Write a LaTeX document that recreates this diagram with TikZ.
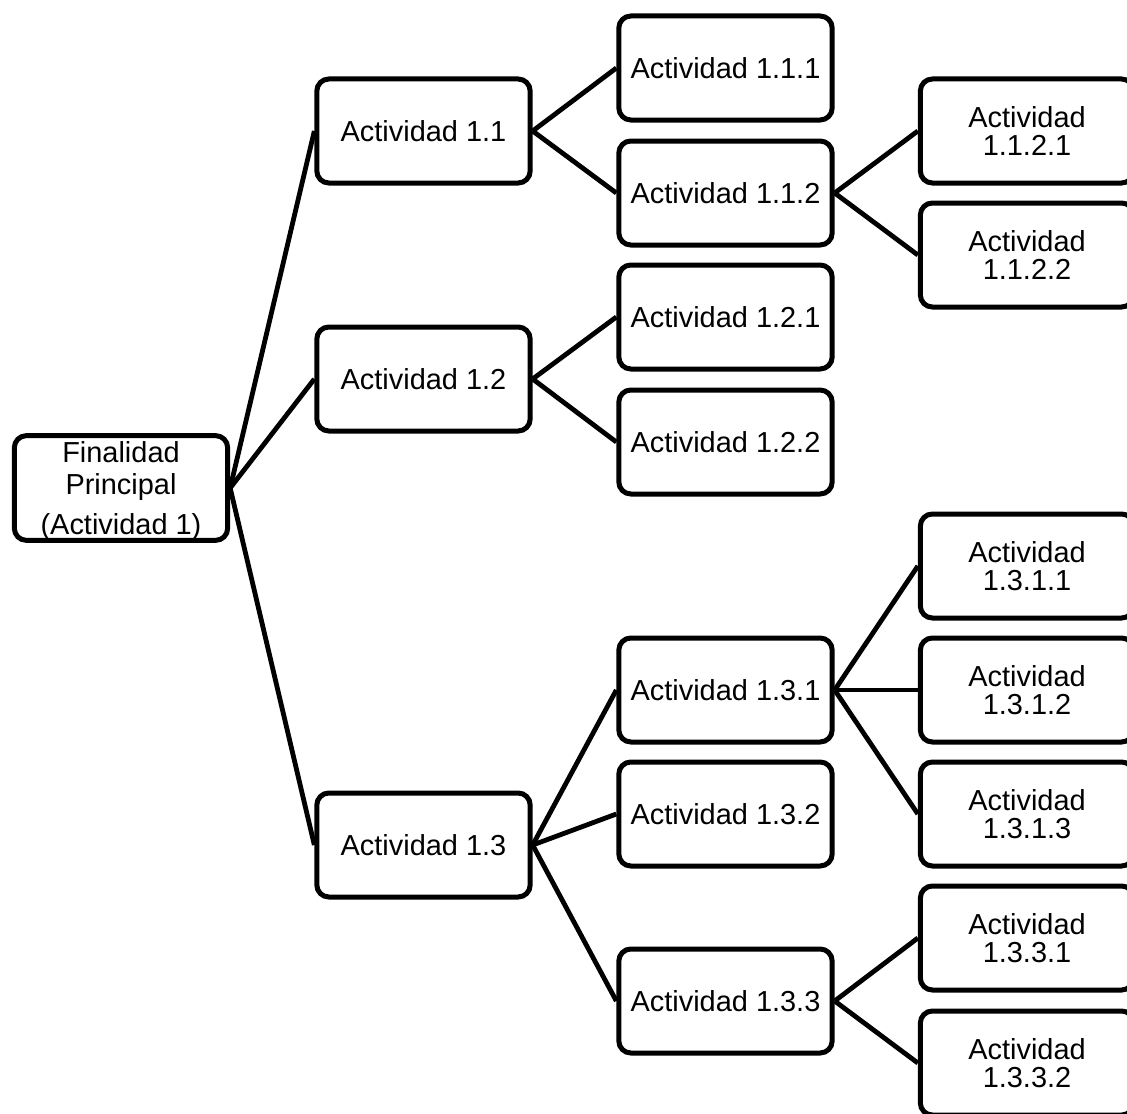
\documentclass[tikz,border=0pt]{standalone}
\usepackage{fontspec}
\setmainfont{Liberation Sans}
\begin{document}
\begin{tikzpicture}[x=0.75pt,y=-0.75pt,
  box/.style={draw=black, line width=3.75pt, rounded corners=9pt, fill=white,
    minimum width=160pt, minimum height=78pt, inner sep=0pt, align=center,
    font=\fontsize{21.7}{21}\selectfont},
  link/.style={draw=black, line width=3.6pt}]
\useasboundingbox (0,0) rectangle (1127,1113);
\clip (0,0) rectangle (1127,1113);
% column 0
\node[box, font=\fontsize{21.7}{24}\selectfont] (f) at (121,488) {\rule{0pt}{20pt}Finalidad\\Principal\\[6pt](Actividad 1)};
% column 1
\node[box] (a11) at (423.5,131) {Actividad 1.1};
\node[box] (a12) at (423.5,379) {Actividad 1.2};
\node[box] (a13) at (423.5,845) {Actividad 1.3};
% column 2
\node[box] (a111) at (725.5,68) {Actividad 1.1.1};
\node[box] (a112) at (725.5,193) {Actividad 1.1.2};
\node[box] (a121) at (725.5,317) {Actividad 1.2.1};
\node[box] (a122) at (725.5,442) {Actividad 1.2.2};
\node[box] (a131) at (725.5,690) {Actividad 1.3.1};
\node[box] (a132) at (725.5,814) {Actividad 1.3.2};
\node[box] (a133) at (725.5,1001) {Actividad 1.3.3};
% column 3
\node[box] (a1121) at (1027,131) {Actividad\\1.1.2.1};
\node[box] (a1122) at (1027,255) {Actividad\\1.1.2.2};
\node[box] (a1311) at (1027,566) {Actividad\\1.3.1.1};
\node[box] (a1312) at (1027,690) {Actividad\\1.3.1.2};
\node[box] (a1313) at (1027,814) {Actividad\\1.3.1.3};
\node[box] (a1331) at (1027,938) {Actividad\\1.3.3.1};
\node[box] (a1332) at (1027,1063) {Actividad\\1.3.3.2};
% connectors
\foreach \p/\c in {f/a11, f/a12, f/a13,
  a11/a111, a11/a112, a112/a1121, a112/a1122,
  a12/a121, a12/a122,
  a13/a131, a13/a132, a13/a133,
  a131/a1311, a131/a1312, a131/a1313,
  a133/a1331, a133/a1332}
  \draw[link] (\p.east) -- (\c.west);
\end{tikzpicture}
\end{document}
